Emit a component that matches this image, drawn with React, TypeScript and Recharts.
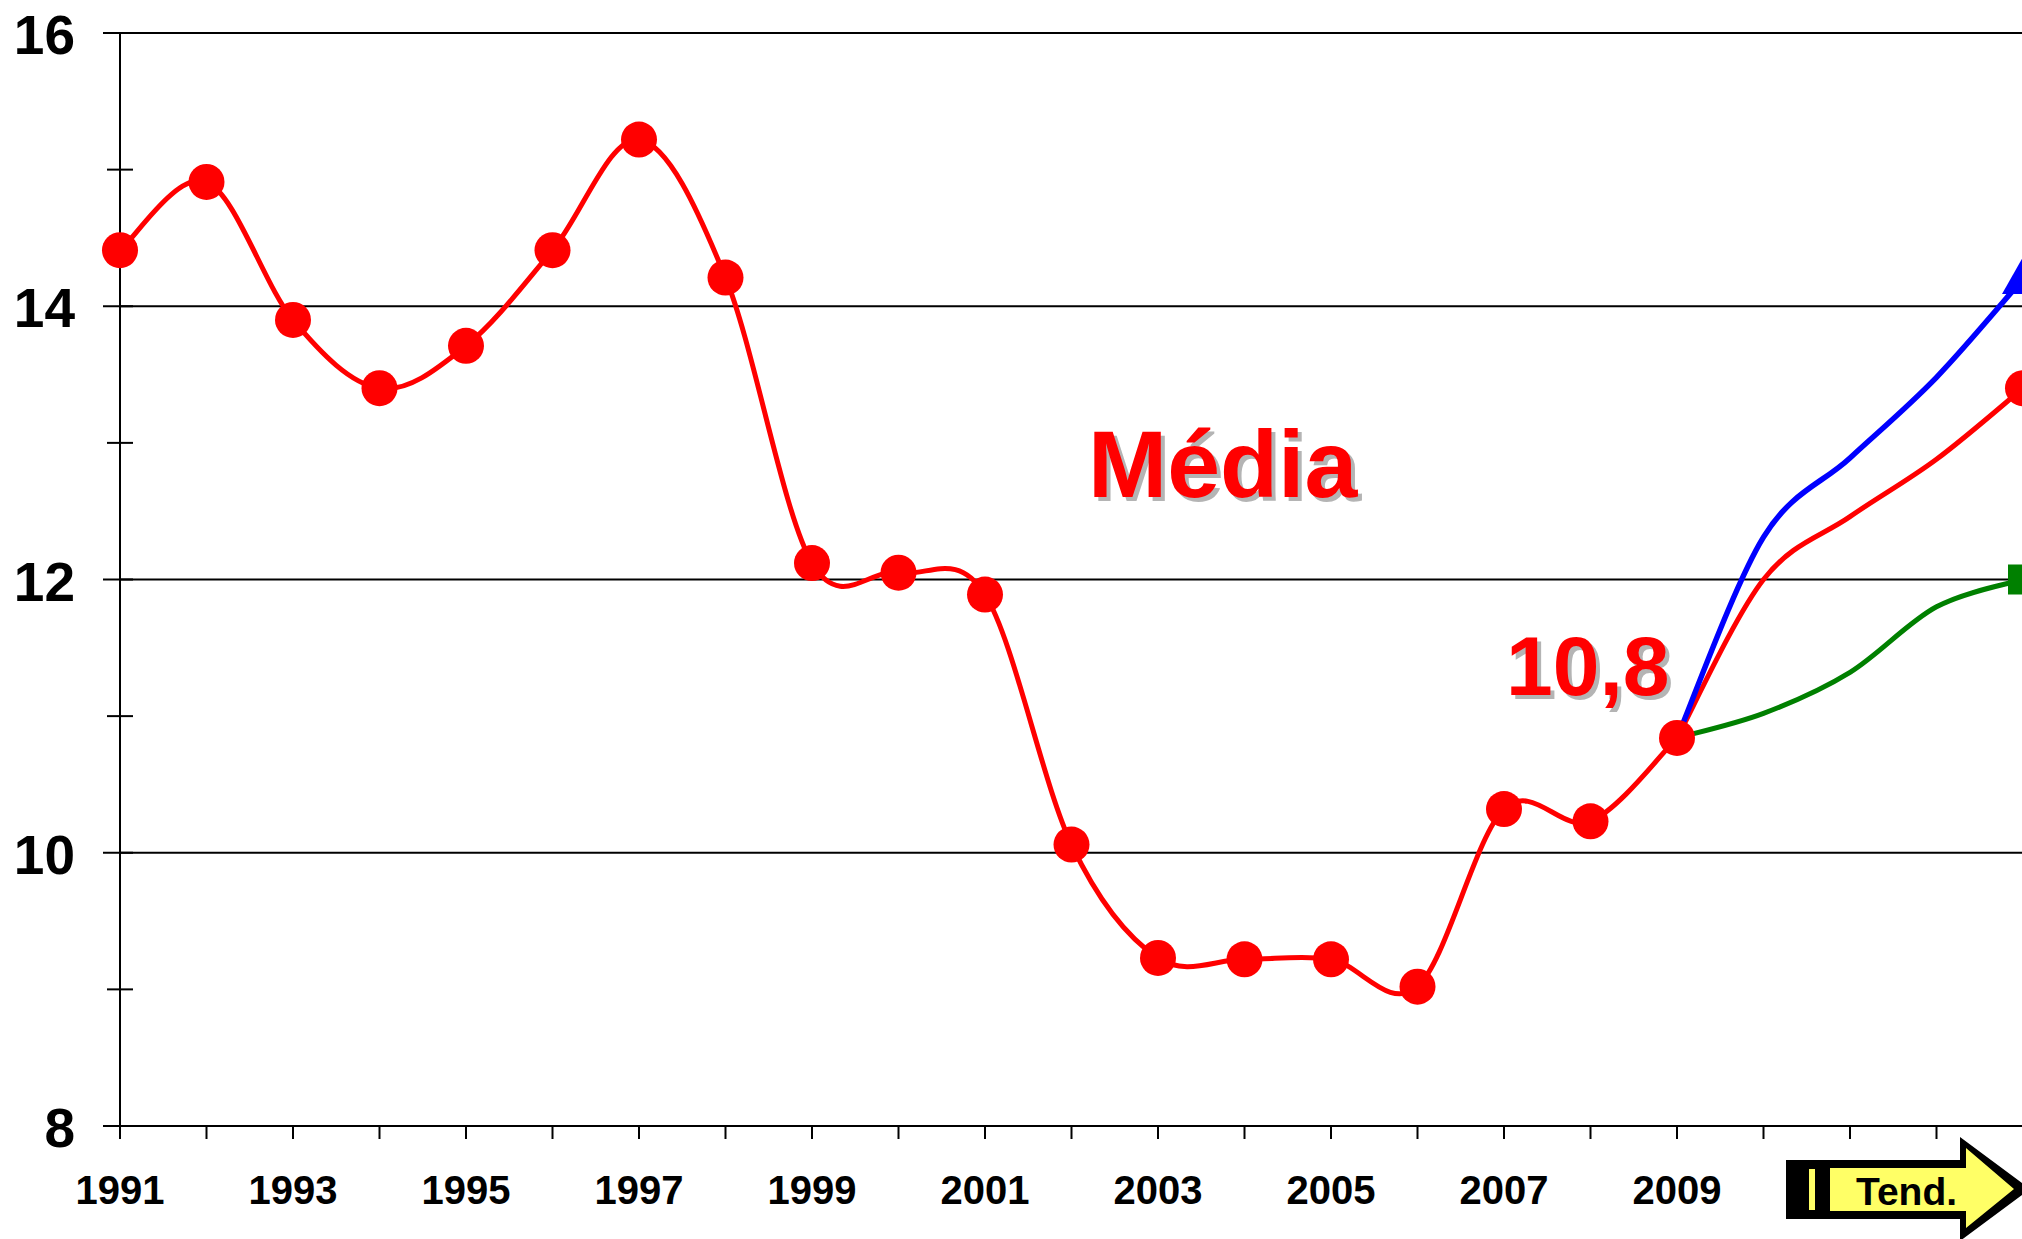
import React from "react";
import { LineChart, Line, XAxis, YAxis, ReferenceLine } from "recharts";

const FONT = '"Liberation Sans", Arial, sans-serif';

const years = [
  1991, 1992, 1993, 1994, 1995, 1996, 1997, 1998, 1999, 2000, 2001, 2002,
  2003, 2004, 2005, 2006, 2007, 2008, 2009, 2010, 2011, 2012, 2013,
];
const media = [
  14.41, 14.91, 13.9, 13.4, 13.71, 14.41, 15.22, 14.21, 12.12, 12.05, 11.89,
  10.06, 9.23, 9.22, 9.22, 9.02, 10.32, 10.23, 10.84,
];
const tendYears = [2009, 2010, 2011, 2012, 2013];
const mediaTend = [10.84, 12.0, 12.46, 12.88, 13.4];
const altaTend = [10.84, 12.31, 12.89, 13.48, 14.2];
const baixaTend = [10.84, 11.02, 11.32, 11.8, 12.0];

const yTicks = [8, 9, 10, 11, 12, 13, 14, 15, 16];
const gridValues = [10, 12, 14, 16];
const xTicks = years.slice(0, -1);

const tendValue = (arr: number[], year: number) => {
  const i = tendYears.indexOf(year);
  return i < 0 ? null : arr[i];
};

const data = years.map((year, i) => ({
  year,
  media: i < media.length ? media[i] : null,
  mediaTend: tendValue(mediaTend, year),
  alta: tendValue(altaTend, year),
  baixa: tendValue(baixaTend, year),
}));

// smoothed line like the spreadsheet's (catmull-rom through each point)
const smooth = (context: any) => {
  let pts: number[][] = [];
  return {
    areaStart() {},
    areaEnd() {},
    lineStart() {
      pts = [];
    },
    lineEnd() {
      const n = pts.length;
      if (!n) return;
      context.moveTo(pts[0][0], pts[0][1]);
      for (let i = 0; i < n - 1; i++) {
        const p0 = pts[Math.max(i - 1, 0)];
        const p1 = pts[i];
        const p2 = pts[i + 1];
        const p3 = pts[Math.min(i + 2, n - 1)];
        context.bezierCurveTo(
          p1[0] + (p2[0] - p0[0]) / 6,
          p1[1] + (p2[1] - p0[1]) / 6,
          p2[0] - (p3[0] - p1[0]) / 6,
          p2[1] - (p3[1] - p1[1]) / 6,
          p2[0],
          p2[1]
        );
      }
    },
    point(x: number, y: number) {
      pts.push([+x, +y]);
    },
  };
};

function YTick({ x, y, payload }: any) {
  const major = payload.value % 2 === 0;
  return (
    <g>
      <line x1={x - (major ? 17 : 13)} x2={x + 13} y1={y} y2={y} stroke="#000" strokeWidth={2} />
      {major && (
        <text x={x - 45} y={y + 21} textAnchor="end" fontFamily={FONT} fontWeight="bold" fontSize={55} fill="#000">
          {payload.value}
        </text>
      )}
    </g>
  );
}

function XTick({ x, y, payload }: any) {
  const v = payload.value;
  return (
    <g>
      <line x1={x} x2={x} y1={y} y2={y + 13} stroke="#000" strokeWidth={2} />
      {v % 2 === 1 && v <= 2009 && (
        <text x={x} y={y + 78} textAnchor="middle" fontFamily={FONT} fontWeight="bold" fontSize={40} fill="#000">
          {v}
        </text>
      )}
    </g>
  );
}

const lastOnly = (shape: "circle" | "triangle" | "square", color: string) => (props: any) => {
  const { cx, cy, index } = props;
  if (index !== years.length - 1 || cy == null) return <g key={index} />;
  if (shape === "circle") return <circle key={index} cx={cx} cy={cy} r={18} fill={color} />;
  if (shape === "square")
    return <rect key={index} x={cx - 15} y={cy - 15} width={30} height={30} fill={color} />;
  return (
    <polygon
      key={index}
      points={`${cx},${cy - 22} ${cx + 21},${cy + 15} ${cx - 21},${cy + 15}`}
      fill={color}
    />
  );
};

function ShadowText({ x, y, size, children }: any) {
  return (
    <g fontFamily={FONT} fontWeight="bold" fontSize={size}>
      <text x={x + 4} y={y + 4} fill="#b4b4b4">
        {children}
      </text>
      <text x={x} y={y} fill="#ff0000">
        {children}
      </text>
    </g>
  );
}

export default function App() {
  return (
    <div
      style={{
        position: "absolute",
        left: 0,
        top: 0,
        width: 2022,
        height: 1239,
        overflow: "hidden",
        background: "#fff",
      }}
    >
      <LineChart width={2063} height={1239} data={data} margin={{ top: 33, right: 40, bottom: 0, left: 0 }}>
        <XAxis
          dataKey="year"
          type="number"
          domain={[1991, 2013]}
          ticks={xTicks}
          interval={0}
          tickSize={0}
          tickMargin={0}
          tickLine={false}
          tick={<XTick />}
          axisLine={{ stroke: "#000", strokeWidth: 2 }}
          height={113}
        />
        <YAxis
          domain={[8, 16]}
          ticks={yTicks}
          interval={0}
          tickSize={0}
          tickMargin={0}
          tickLine={false}
          tick={<YTick />}
          axisLine={{ stroke: "#000", strokeWidth: 2 }}
          width={120}
        />
        {gridValues.map((v) => (
          <ReferenceLine key={v} y={v} stroke="#000" strokeWidth={2} />
        ))}
        <Line
          dataKey="baixa"
          type={smooth as any}
          stroke="#008000"
          strokeWidth={5}
          dot={lastOnly("square", "#008000")}
          isAnimationActive={false}
        />
        <Line
          dataKey="mediaTend"
          type={smooth as any}
          stroke="#ff0000"
          strokeWidth={5}
          dot={lastOnly("circle", "#ff0000")}
          isAnimationActive={false}
        />
        <Line
          dataKey="alta"
          type={smooth as any}
          stroke="#0000ff"
          strokeWidth={5.5}
          dot={lastOnly("triangle", "#0000ff")}
          isAnimationActive={false}
        />
        <Line
          dataKey="media"
          type={smooth as any}
          stroke="#ff0000"
          strokeWidth={5}
          dot={{ r: 18, fill: "#ff0000", stroke: "none" }}
          isAnimationActive={false}
        />
      </LineChart>
      <svg
        width={2022}
        height={1239}
        style={{ position: "absolute", left: 0, top: 0, pointerEvents: "none" }}
      >
        <ShadowText x={1088} y={497} size={95}>
          Média
        </ShadowText>
        <ShadowText x={1506} y={695} size={84}>
          10,8
        </ShadowText>
        <polygon
          points="1786,1160 1960,1160 1960,1137 2030,1189 1960,1241 1960,1219 1786,1219"
          fill="#000"
        />
        <polygon
          points="1830,1168 1966,1168 1966,1148 2014,1189 1966,1228 1966,1211 1830,1211"
          fill="#ffff66"
        />
        <rect x={1809} y={1169} width={6} height={41} fill="#ffff66" />
        <text x={1856} y={1205} fontFamily={FONT} fontWeight="bold" fontSize={39} fill="#000">
          Tend.
        </text>
      </svg>
    </div>
  );
}
